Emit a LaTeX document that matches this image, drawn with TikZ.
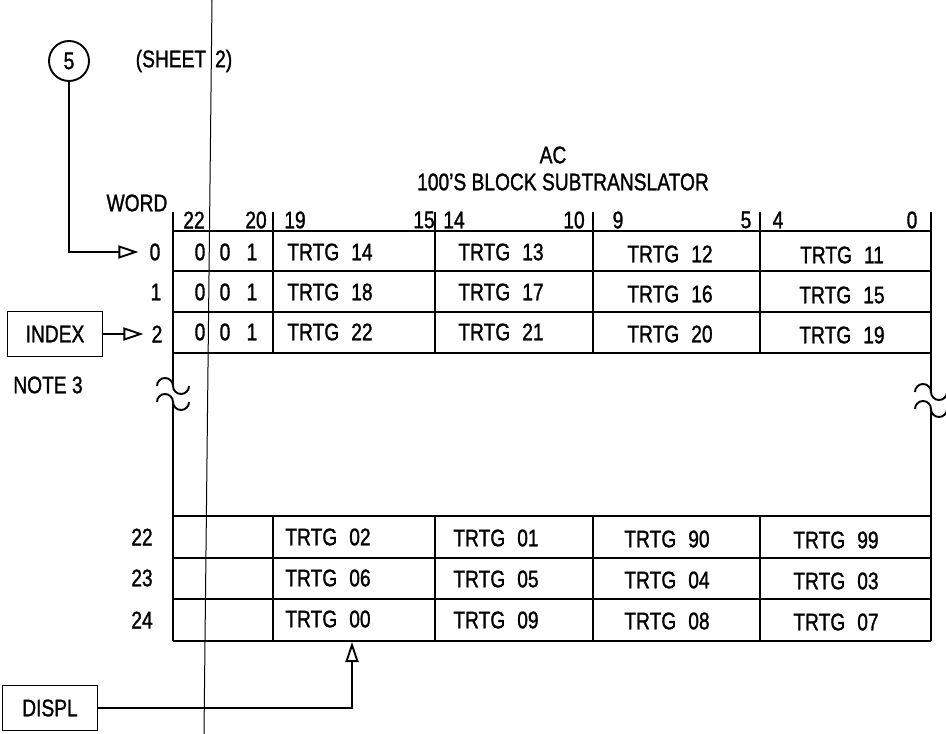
\documentclass[tikz,border=0pt]{standalone}
\usepackage{fontspec}
\setmainfont{Liberation Sans}[FakeStretch=0.8,FakeBold=1.2]
\usetikzlibrary{arrows.meta}
\newcommand{\tg}[1]{TRTG\hspace{0.5em}#1}
\tikzset{
    txt/.style={inner sep=0pt, font=\fontsize{24}{27}\selectfont},
    tbl/.style={line width=1.9pt},
    rect/.style={draw, line width=1.9pt, minimum width=95pt, minimum height=45pt, txt},
    arr/.style={-{Triangle[open,length=20pt,width=13pt]}, line width=1.9pt},
}
\begin{document}
\begin{tikzpicture}[x=1pt,y=-1pt]
    \useasboundingbox (0,0) rectangle (946,734);
    % sheet line
    \draw [line width=1pt] (212,0) -- (204,734);
    \node [txt] (sheet) at (184,61) {(SHEET\hspace{9pt}2)};
    \node [circle, draw, line width=1.9pt, minimum size=40pt, txt] (c5) at (69,61) {5};
    % title
    \node [txt] (ac) at (553,155) {AC};
    \node [txt] (title) at (563,182) {100'S BLOCK SUBTRANSLATOR};
    \node [txt] (word) at (137,203) {WORD};
    % bits
    \node [txt] at (194,220) {22};
    \node [txt] at (256,220) {20};
    \node [txt] at (295,220) {19};
    \node [txt] at (424,220) {15};
    \node [txt] at (454,220) {14};
    \node [txt] at (574,220) {10};
    \node [txt] at (618,220) {9};
    \node [txt] at (746,220) {5};
    \node [txt] at (778,220) {4};
    \node [txt] at (912,220) {0};
    % upper rows
    \draw [tbl] (173,212) -- (173,386);
    \draw [tbl] (931,212) -- (931,392);
    \draw [tbl] (273,212) -- (273,353);
    \draw [tbl] (435,212) -- (435,353);
    \draw [tbl] (593,212) -- (593,353);
    \draw [tbl] (760,212) -- (760,353);
    \draw [tbl] (173,231) -- (931,231);
    \draw [tbl] (173,271) -- (931,271);
    \draw [tbl] (173,312) -- (931,312);
    \draw [tbl] (173,353) -- (931,353);
    % breaks
    \draw [tbl] (157,386) arc [start angle=180, end angle=360, radius=8] arc [start angle=180, end angle=0, radius=8];
    \draw [tbl] (157,402) arc [start angle=180, end angle=360, radius=8] arc [start angle=180, end angle=0, radius=8];
    \draw [tbl] (915,392) arc [start angle=180, end angle=360, radius=8] arc [start angle=180, end angle=0, radius=8];
    \draw [tbl] (915,409) arc [start angle=180, end angle=360, radius=8] arc [start angle=180, end angle=0, radius=8];
    % lower rows
    \draw [tbl] (173,402) -- (173,641);
    \draw [tbl] (931,409) -- (931,641);
    \draw [tbl] (273,516) -- (273,641);
    \draw [tbl] (435,516) -- (435,641);
    \draw [tbl] (593,516) -- (593,641);
    \draw [tbl] (760,516) -- (760,641);
    \draw [tbl] (173,516) -- (931,516);
    \draw [tbl] (173,558) -- (931,558);
    \draw [tbl] (173,599) -- (931,599);
    \draw [tbl] (173,641) -- (931,641);
    % words
    \node [txt] (w0) at (155,252) {0};
    \node [txt] (w1) at (156,292) {1};
    \node [txt] (w2) at (157,334) {2};
    \node [txt] (w22) at (142,537) {22};
    \node [txt] (w23) at (142,578) {23};
    \node [txt] (w24) at (142,620) {24};
    \node [txt] at (200,252) {0};
    \node [txt] at (225,252) {0};
    \node [txt] at (252,252) {1};
    \node [txt] at (200,292) {0};
    \node [txt] at (225,292) {0};
    \node [txt] at (252,292) {1};
    \node [txt] at (200,332) {0};
    \node [txt] at (225,332) {0};
    \node [txt] at (252,332) {1};
    \node [txt] (t14) at (330,252) {\tg{14}};
    \node [txt] (t13) at (501,252) {\tg{13}};
    \node [txt] (t12) at (670,254) {\tg{12}};
    \node [txt] (t11) at (842,255) {\tg{11}};
    \node [txt] (t18) at (330,292) {\tg{18}};
    \node [txt] (t17) at (501,292) {\tg{17}};
    \node [txt] (t16) at (670,294) {\tg{16}};
    \node [txt] (t15) at (842,295) {\tg{15}};
    \node [txt] (t22) at (330,332) {\tg{22}};
    \node [txt] (t21) at (501,332) {\tg{21}};
    \node [txt] (t20) at (670,334) {\tg{20}};
    \node [txt] (t19) at (842,335) {\tg{19}};
    \node [txt] (t02) at (328,537) {\tg{02}};
    \node [txt] (t01) at (496,538) {\tg{01}};
    \node [txt] (t90) at (667,539) {\tg{90}};
    \node [txt] (t99) at (836,540) {\tg{99}};
    \node [txt] (t06) at (328,578) {\tg{06}};
    \node [txt] (t05) at (496,579) {\tg{05}};
    \node [txt] (t04) at (667,580) {\tg{04}};
    \node [txt] (t03) at (836,581) {\tg{03}};
    \node [txt] (t00) at (328,619) {\tg{00}};
    \node [txt] (t09) at (496,620) {\tg{09}};
    \node [txt] (t08) at (667,621) {\tg{08}};
    \node [txt] (t07) at (836,622) {\tg{07}};
    % inputs
    \node [rect] (index) at (55,334) {INDEX};
    \node [txt] (note) at (48,385) {NOTE 3};
    \node [rect] (displ) at (50,708) {DISPL};
    \coordinate (dtip) at (352,642);
    \draw [arr, shorten >=11pt] (c5.south) |- (w0.west);
    \draw [arr, shorten >=8pt] (index.east) -- (w2.west);
    \draw [arr] (displ.east) -| (dtip);
\end{tikzpicture}
\end{document}
